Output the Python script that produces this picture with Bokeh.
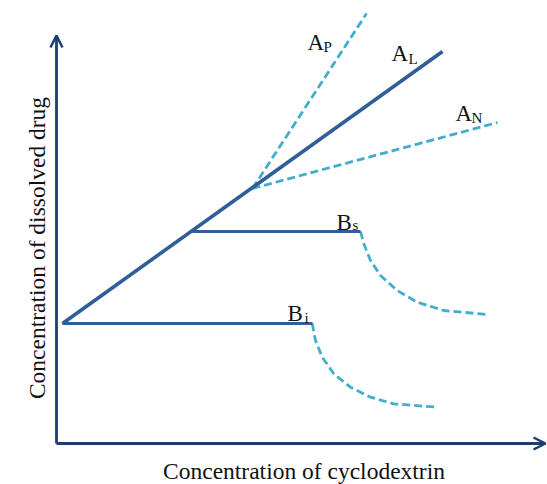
import math
from bokeh.plotting import figure
from bokeh.models import Range1d, Arrow, OpenHead, Label, ColumnDataSource
from bokeh.core.properties import value
from bokeh.embed import file_html
from bokeh.resources import INLINE

# ---- data (arbitrary concentration units) ----
axis_x_end = [0.0, 4.89]
axis_y_end = [0.0, 4.08]

al_x = [0.06, 3.86]
al_y = [1.20, 3.92]

ap_x = [1.96, 3.10]
ap_y = [2.55, 4.30]

an_x = [1.96, 4.41]
an_y = [2.55, 3.21]

bs_flat_x = [1.36, 3.04]
bs_flat_y = [2.12, 2.12]
bs_curve_x = [3.04, 3.073, 3.14, 3.24, 3.407, 3.607, 3.873, 4.307]
bs_curve_y = [2.12, 1.997, 1.83, 1.68, 1.53, 1.413, 1.33, 1.29]

bi_flat_x = [0.06, 2.56]
bi_flat_y = [1.20, 1.20]
bi_curve_x = [2.557, 2.59, 2.657, 2.773, 2.94, 3.14, 3.373, 3.807]
bi_curve_y = [1.20, 1.03, 0.863, 0.697, 0.563, 0.463, 0.397, 0.363]

main_labels = ["A", "A", "A", "B", "B"]
main_lx = [2.51, 3.35, 3.99, 2.80, 2.31]
main_ly = [4.01, 3.90, 3.30, 2.21, 1.30]
sub_labels = ["P", "L", "N", "s", "i"]
sub_lx = [2.67, 3.52, 4.15, 2.96, 2.48]
sub_ly = [3.97, 3.85, 3.26, 2.19, 1.26]

x_title = "Concentration of cyclodextrin"
y_title = "Concentration of dissolved drug"

NAVY = "#1c3f6e"
BLUE = "#2f5e98"
CYAN = "#45adcc"
FONT = "Liberation Serif"

p = figure(width=547, height=484, output_backend="svg", toolbar_location=None,
           x_range=Range1d(-0.56, 4.91), y_range=Range1d(-0.41, 4.43),
           min_border=0, min_border_left=0, min_border_right=0,
           min_border_top=0, min_border_bottom=0)
p.axis.visible = False
p.grid.visible = False
p.outline_line_color = None
p.background_fill_color = "white"

# axes with arrow heads
p.add_layout(Arrow(end=OpenHead(size=12, line_width=2.5, line_color=NAVY),
                   x_start=axis_y_end[0], y_start=axis_y_end[0],
                   x_end=0.0, y_end=axis_y_end[1],
                   line_color=NAVY, line_width=2.8))
p.add_layout(Arrow(end=OpenHead(size=12, line_width=2.5, line_color=NAVY),
                   x_start=axis_x_end[0], y_start=0.0,
                   x_end=axis_x_end[1], y_end=0.0,
                   line_color=NAVY, line_width=2.8))

DASH = "8 4"
p.line(ap_x, ap_y, line_color=CYAN, line_width=2.8, line_dash=DASH)
p.line(an_x, an_y, line_color=CYAN, line_width=2.8, line_dash=DASH)
p.line(bs_curve_x, bs_curve_y, line_color=CYAN, line_width=2.8, line_dash=DASH)
p.line(bi_curve_x, bi_curve_y, line_color=CYAN, line_width=2.8, line_dash=DASH)

p.line(bs_flat_x, bs_flat_y, line_color=BLUE, line_width=2.8)
p.line(bi_flat_x, bi_flat_y, line_color=BLUE, line_width=2.8)
p.line(al_x, al_y, line_color=BLUE, line_width=3.6)

src_main = ColumnDataSource(dict(x=main_lx, y=main_ly, t=main_labels))
src_sub = ColumnDataSource(dict(x=sub_lx, y=sub_ly, t=sub_labels))
p.text(x="x", y="y", text="t", source=src_main, text_font=value(FONT),
       text_font_size="23px", text_color="#111111",
       text_align="left", text_baseline="alphabetic")
p.text(x="x", y="y", text="t", source=src_sub, text_font=value(FONT),
       text_font_size="15px", text_color="#111111",
       text_align="left", text_baseline="alphabetic")

p.add_layout(Label(x=2.475, y=-0.27, text=x_title, text_font=FONT,
                   text_font_size="23.5px", text_color="#111111",
                   text_align="center", text_baseline="alphabetic"))
p.add_layout(Label(x=-0.20, y=1.955, text=y_title, text_font=FONT,
                   text_font_size="23.5px", text_color="#111111",
                   angle=math.pi / 2, text_align="center",
                   text_baseline="alphabetic"))

open("out.html", "w").write(file_html(p, INLINE))
